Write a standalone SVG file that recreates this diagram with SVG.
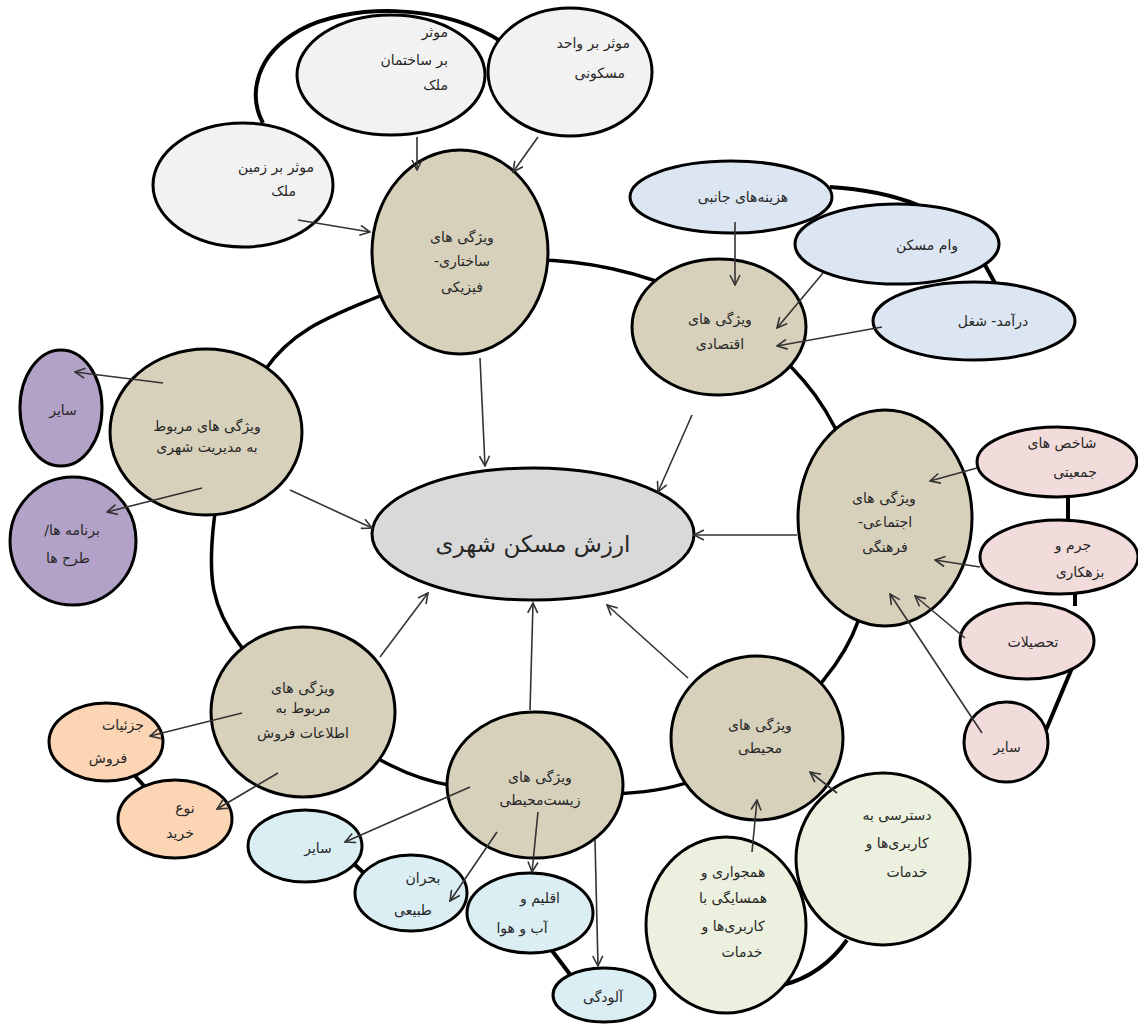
<svg xmlns="http://www.w3.org/2000/svg" width="1138" height="1025" viewBox="0 0 1138 1025">
<defs>
<marker id="ah" viewBox="0 0 12 12" refX="11" refY="6" markerWidth="12" markerHeight="12" markerUnits="userSpaceOnUse" orient="auto">
<path d="M1,1 L11,6 L1,11" fill="none" stroke="#333" stroke-width="1.6"/>
</marker>
<style>
.n{stroke:#000;stroke-width:3}
.tan{fill:#d7d1bc}
.ctr{fill:#d9d9d9}
.gr{fill:#f2f2f2}
.bl{fill:#dce6f2}
.pk{fill:#f2dcdb}
.gn{fill:#ebf1de}
.aq{fill:#dbeef4}
.pc{fill:#fcd5b5}
.pu{fill:#b3a2c7}
.lk{fill:none;stroke:#000;stroke-width:4}
.ring{fill:none;stroke:#000;stroke-width:3.5}
.ar{fill:none;stroke:#333;stroke-width:1.6;marker-end:url(#ah)}
text{font-family:"DejaVu Sans",sans-serif;font-size:14px;fill:#262626;direction:rtl;text-anchor:middle}
.big{font-size:23px}
.r{text-anchor:start}
</style>
</defs>
<rect width="1138" height="1025" fill="#fff"/>
<g id="connectors">
<path class="ring" d="M530,260 C583.3,259.2 642.5,272.5 690,295 C737.5,317.5 785.3,354.2 815,395 C844.7,435.8 864.7,495 868,540 C871.3,585 863,625.3 835,665 C807,704.7 750.8,756.8 700,778 C649.2,799.2 581.7,794.2 530,792 C478.3,789.8 438.3,789.5 390,765 C341.7,740.5 269.5,684.2 240,645 C210.5,605.8 208.8,575.8 213,530 C217.2,484.2 238.8,408.3 265,370 C291.2,331.7 325.8,318.3 370,300 C414.2,281.7 476.7,260.8 530,260 Z"/>
<path class="lk" d="M263,123 C248,95 255,55 300,30 C345,5 440,0 505,44"/>
<path class="lk" d="M830,187 Q880,190 918,205"/>
<path class="lk" d="M985,265 L996,285"/>
<path class="lk" d="M1068,495 L1068,522"/>
<path class="lk" d="M1075,592 L1075,606"/>
<path class="lk" d="M1072,668 L1046,730"/>
<path class="lk" d="M783,985 Q822,975 847,940"/>
<path class="lk" d="M352,862 L366,875"/>
<path class="lk" d="M550,948 L572,977"/>
<path class="lk" d="M135,776 L147,789"/>
</g>
<g id="n-structural"><ellipse class="n tan" cx="460" cy="252" rx="88" ry="102"/><text x="462" y="242">ویژگی های</text><text x="462" y="266">ساختاری-</text><text x="462" y="292">فیزیکی</text></g>
<g id="n-economic"><ellipse class="n tan" cx="719" cy="327" rx="87" ry="68"/><text x="720" y="324">ویژگی های</text><text x="720" y="349">اقتصادی</text></g>
<g id="n-social"><ellipse class="n tan" cx="885" cy="518" rx="87" ry="108"/><text x="884" y="503">ویژگی های</text><text x="885" y="527">اجتماعی-</text><text x="885" y="552">فرهنگی</text></g>
<g id="n-environment"><ellipse class="n tan" cx="757" cy="738" rx="86" ry="82"/><text x="760" y="730">ویژگی های</text><text x="760" y="753">محیطی</text></g>
<g id="n-bio"><ellipse class="n tan" cx="535" cy="785" rx="88" ry="73"/><text x="540" y="782">ویژگی های</text><text x="540" y="805">زیست‌محیطی</text></g>
<g id="n-sales"><ellipse class="n tan" cx="303" cy="712" rx="92" ry="85"/><text x="303" y="693">ویژگی های</text><text x="303" y="713">مربوط به</text><text x="303" y="738">اطلاعات فروش</text></g>
<g id="n-management"><ellipse class="n tan" cx="206" cy="432" rx="96" ry="83"/><text x="207" y="431">ویژگی های مربوط</text><text x="207" y="452">به مدیریت شهری</text></g>
<g id="n-center"><ellipse class="n ctr" cx="533" cy="534" rx="161" ry="66"/><text class="big" x="533" y="552">ارزش مسکن شهری</text></g>
<g id="n-land"><ellipse class="n gr" cx="243" cy="185" rx="90" ry="62"/><text class="r" x="314" y="172">موثر بر زمین</text><text class="r" x="296" y="196">ملک</text></g>
<g id="n-building"><ellipse class="n gr" cx="391" cy="75" rx="94" ry="60"/><text class="r" x="448" y="37">موثر</text><text class="r" x="448" y="65">بر ساختمان</text><text class="r" x="448" y="90">ملک</text></g>
<g id="n-unit"><ellipse class="n gr" cx="570" cy="72" rx="82" ry="64"/><text class="r" x="630" y="48">موثر بر واحد</text><text class="r" x="625" y="78">مسکونی</text></g>
<g id="n-costs"><ellipse class="n bl" cx="731" cy="197" rx="101" ry="36"/><text x="743" y="202">هزینه‌های جانبی</text></g>
<g id="n-loan"><ellipse class="n bl" cx="897" cy="244" rx="102" ry="40"/><text x="927" y="250">وام مسکن</text></g>
<g id="n-income"><ellipse class="n bl" cx="974" cy="321" rx="101" ry="39"/><text x="993" y="326">درآمد- شغل</text></g>
<g id="n-pop"><ellipse class="n pk" cx="1057" cy="462" rx="80" ry="35"/><text x="1062" y="448">شاخص های</text><text x="1075" y="477">جمعیتی</text></g>
<g id="n-crime"><ellipse class="n pk" cx="1059" cy="557" rx="79" ry="37"/><text x="1073" y="550">جرم و</text><text x="1080" y="577">بزهکاری</text></g>
<g id="n-edu"><ellipse class="n pk" cx="1027" cy="641" rx="67" ry="38"/><text x="1033" y="647">تحصیلات</text></g>
<g id="n-social-other"><ellipse class="n pk" cx="1006" cy="742" rx="42" ry="40"/><text x="1007" y="752">سایر</text></g>
<g id="n-access"><ellipse class="n gn" cx="883" cy="859" rx="87" ry="86"/><text x="897" y="820">دسترسی به</text><text x="897" y="848">کاربری‌ها و</text><text x="907" y="877">خدمات</text></g>
<g id="n-adjacency"><ellipse class="n gn" cx="726" cy="925" rx="80" ry="88"/><text x="733" y="877">همجواری و</text><text x="733" y="903">همسایگی با</text><text x="733" y="931">کاربری‌ها و</text><text x="742" y="957">خدمات</text></g>
<g id="n-bio-other"><ellipse class="n aq" cx="305" cy="846" rx="57" ry="36"/><text x="318" y="853">سایر</text></g>
<g id="n-disaster"><ellipse class="n aq" cx="411" cy="893" rx="56" ry="38"/><text x="423" y="883">بحران</text><text x="413" y="915">طبیعی</text></g>
<g id="n-climate"><ellipse class="n aq" cx="530" cy="913" rx="63" ry="40"/><text x="540" y="903">اقلیم و</text><text x="522" y="933">آب و هوا</text></g>
<g id="n-pollution"><ellipse class="n aq" cx="604" cy="995" rx="51" ry="27"/><text x="603" y="1002">آلودگی</text></g>
<g id="n-sale-details"><ellipse class="n pc" cx="106" cy="742" rx="57" ry="39"/><text x="123" y="730">جزئیات</text><text x="108" y="763">فروش</text></g>
<g id="n-purchase-type"><ellipse class="n pc" cx="175" cy="819" rx="57" ry="39"/><text x="185" y="813">نوع</text><text x="180" y="838">خرید</text></g>
<g id="n-mgmt-other"><ellipse class="n pu" cx="61" cy="408" rx="41" ry="58"/><text x="63" y="415">سایر</text></g>
<g id="n-plans"><ellipse class="n pu" cx="73" cy="541" rx="63" ry="64"/><text x="72" y="535">برنامه ها/</text><text x="68" y="563">طرح ها</text></g>
<g id="arrows">
<path class="ar" d="M417,137 L417,170"/>
<path class="ar" d="M538,137 L513,172"/>
<path class="ar" d="M298,220 L370,232"/>
<path class="ar" d="M735,222 L735,285"/>
<path class="ar" d="M823,273 L777,328"/>
<path class="ar" d="M882,327 L777,346"/>
<path class="ar" d="M977,468 L930,481"/>
<path class="ar" d="M980,567 L935,560"/>
<path class="ar" d="M965,638 L915,596"/>
<path class="ar" d="M982,733 L890,594"/>
<path class="ar" d="M752,852 L757,800"/>
<path class="ar" d="M837,793 L810,772"/>
<path class="ar" d="M470,787 L345,842"/>
<path class="ar" d="M497,832 L450,901"/>
<path class="ar" d="M538,812 L532,872"/>
<path class="ar" d="M595,840 L598,966"/>
<path class="ar" d="M242,713 L150,736"/>
<path class="ar" d="M278,773 L217,809"/>
<path class="ar" d="M163,383 L75,372"/>
<path class="ar" d="M202,488 L107,512"/>
<path class="ar" d="M480,358 L485,466"/>
<path class="ar" d="M692,415 L658,492"/>
<path class="ar" d="M797,535 L694,535"/>
<path class="ar" d="M290,490 L372,528"/>
<path class="ar" d="M380,657 L428,593"/>
<path class="ar" d="M530,710 L533,603"/>
<path class="ar" d="M688,678 L607,605"/>
</g>
</svg>
